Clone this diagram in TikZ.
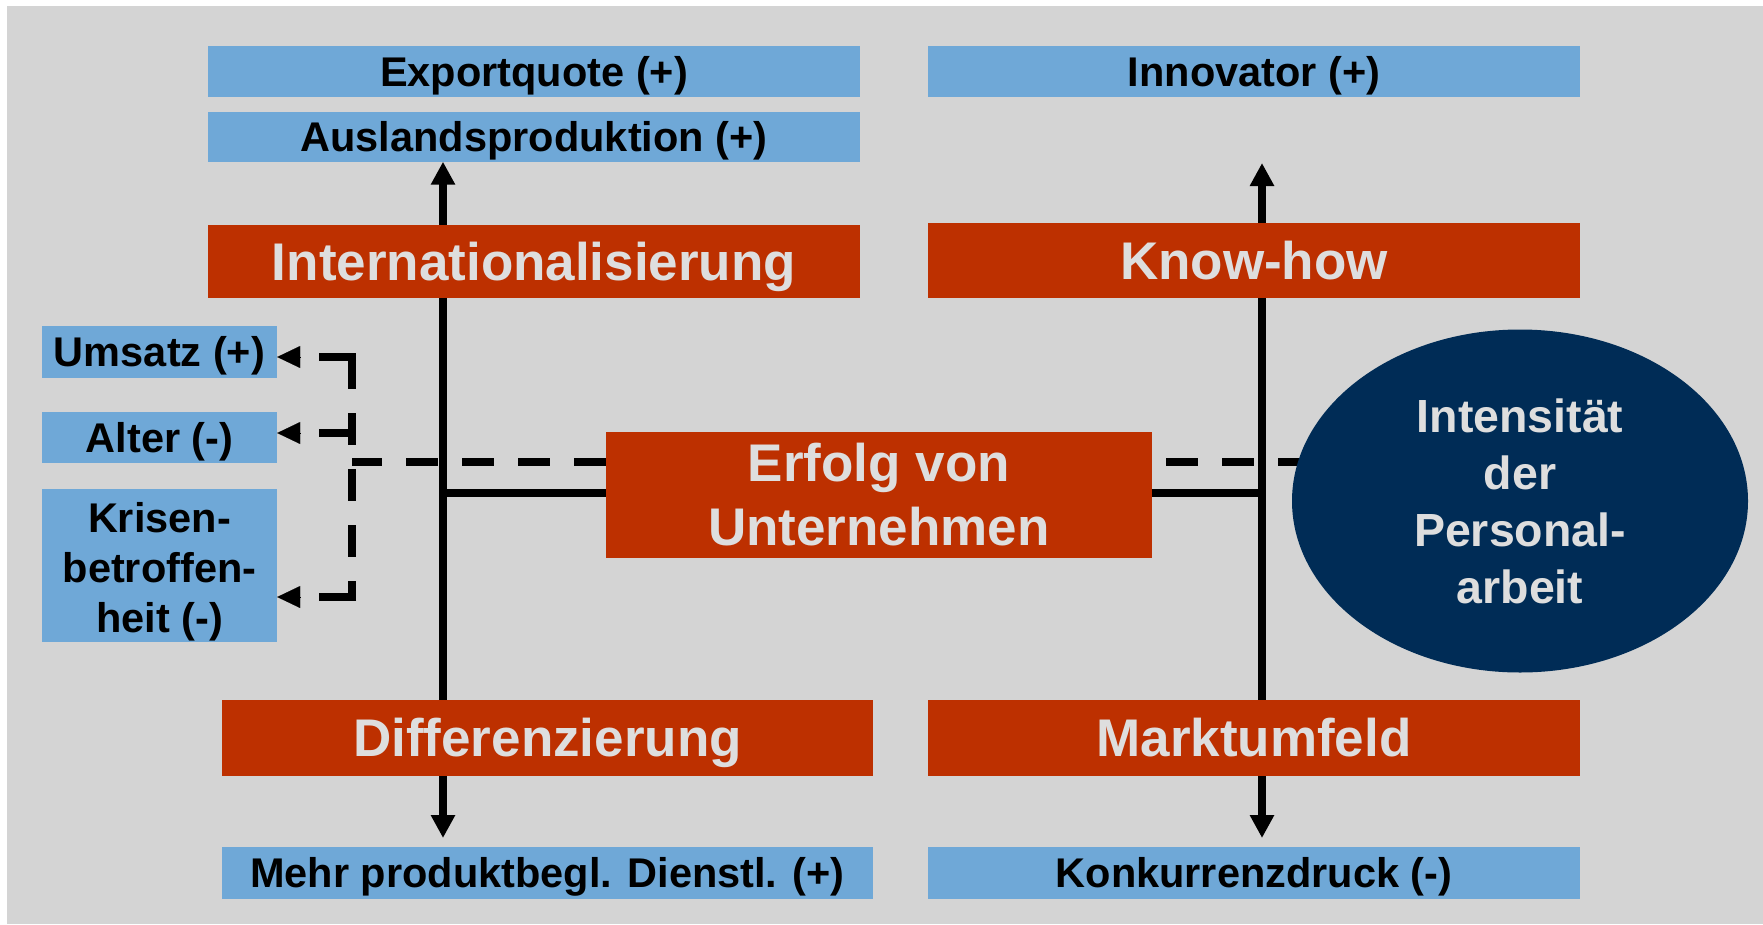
\documentclass[tikz,border=0pt]{standalone}
\usepackage{fontspec}
\setmainfont{Liberation Sans}
\usetikzlibrary{arrows.meta,shapes.geometric}
\definecolor{bgc}{RGB}{212,212,212}
\definecolor{boxblue}{RGB}{111,168,215}
\definecolor{boxred}{RGB}{189,48,0}
\definecolor{navy}{RGB}{0,44,86}
\definecolor{lighttxt}{RGB}{222,222,222}
\tikzset{
  bluebox/.style={fill=boxblue, inner sep=0pt, text=black,
    font=\fontsize{41.5}{51.5}\selectfont\bfseries},
  bluesingle/.style={bluebox, text height=29.7pt, text depth=0pt},
  redbox/.style={fill=boxred, inner sep=0pt, text=lighttxt,
    font=\fontsize{53}{64}\selectfont\bfseries},
  redsingle/.style={redbox, text height=37.9pt, text depth=0pt},
  solidline/.style={line width=7.5pt, black},
  arrowline/.style={line width=7.5pt, black, -{Triangle[length=23pt,width=23pt]}},
  dashline/.style={line width=8pt, black, dash pattern=on 32pt off 24pt},
  dashsolid/.style={line width=8pt, black},
  lefttip/.style={line width=0.1pt, black, -{Triangle[length=23pt,width=22pt]}},
}
\begin{document}
\begin{tikzpicture}[x=1pt,y=-1pt]
\useasboundingbox (0,0) rectangle (1763,924);
\fill[white] (0,0) rectangle (1763,924);
\fill[bgc] (7,6) rectangle (1763,924);

% coordinates
\coordinate (vl) at (443,0);
\coordinate (vr) at (1262,0);
\coordinate (hs) at (0,493);
\coordinate (hd) at (0,462);
\coordinate (ktip) at (1262,163);
\coordinate (dtipl) at (443,838);
\coordinate (dtipr) at (1262,838);
\coordinate (bx) at (352,0);
\coordinate (j1) at (352,357);
\coordinate (j2) at (352,433);
\coordinate (j3) at (352,597);
\coordinate (e1) at (319,357);
\coordinate (e2) at (319,433);
\coordinate (e3) at (319,597);
\coordinate (a1) at (300,357);
\coordinate (a2) at (300,433);
\coordinate (a3) at (300,597);

% nodes
\node[bluesingle, minimum width=652, minimum height=51] (exp) at (534,71.5) {Exportquote (+)};
\node[bluesingle, minimum width=652, minimum height=50] (aus) at (534,136.5) {Auslandsproduktion (+)};
\node[redsingle, minimum width=652, minimum height=73] (intl) at (534,261.5) {Internationalisierung};
\node[bluesingle, minimum width=652, minimum height=51] (innov) at (1254,71.5) {Innovator (+)};
\node[redsingle, minimum width=652, minimum height=75] (know) at (1254,260.5) {Know-how};
\node[redsingle, minimum width=651, minimum height=76] (diff) at (547.5,738) {Differenzierung};
\node[redsingle, minimum width=652, minimum height=76] (markt) at (1254,738) {Marktumfeld};
\node[bluesingle, minimum width=651, minimum height=52] (mehr) at (547.5,873) {Mehr produktbegl. Dienstl. (+)};
\node[bluesingle, minimum width=652, minimum height=52] (konk) at (1254,873) {Konkurrenzdruck (-)};
\node[bluesingle, minimum width=235, minimum height=52] (ums) at (159.5,352) {Umsatz (+)};
\node[bluesingle, minimum width=235, minimum height=51] (alt) at (159.5,437.5) {Alter (-)};
\node[bluebox, font=\fontsize{41.5}{50}\selectfont\bfseries, text height=133pt, text depth=0pt,
  minimum width=235, minimum height=153, align=center] (kri) at (159.5,565.5) {Krisen-\\betroffen-\\heit (-)};

% connectors
\draw[solidline] (intl.south -| vl) -- (diff.north -| vl);
\draw[solidline] (know.south -| vr) -- (markt.north -| vr);
\draw[arrowline] (intl.north -| vl) -- (aus.south -| vl);
\draw[arrowline] (know.north -| vr) -- (ktip);
\draw[arrowline] (diff.south -| vl) -- (dtipl);
\draw[arrowline] (markt.south -| vr) -- (dtipr);

\node[redbox, minimum width=546, minimum height=126, align=center] (erf) at (879,495) {Erfolg von\\Unternehmen};
\draw[solidline] (erf.west |- hs) -- (vl |- hs);
\draw[solidline] (erf.east |- hs) -- (vr |- hs);

% dashed links
\draw[dashline] (erf.west |- hd) -- (bx |- hd);
\draw[dashline, dash phase=-14pt] (erf.east |- hd) -- (1340,462);
\draw[dashline] (j1) -- (j3);
\draw[dashsolid] (356,357) -- (e1);
\draw[dashsolid] (j2) -- (e2);
\draw[dashsolid] (356,597) -- (e3);
\draw[lefttip] (a1) -- (ums.east |- a1);
\draw[lefttip] (a2) -- (alt.east |- a2);
\draw[lefttip] (a3) -- (kri.east |- a3);

\node[ellipse, fill=navy, minimum width=456, minimum height=343, inner sep=0pt,
  text=lighttxt, align=center, font=\fontsize{46.5}{57}\selectfont\bfseries] (int) at (1520,501)
  {Intensität\\der\\Personal-\\arbeit};
\end{tikzpicture}
\end{document}
